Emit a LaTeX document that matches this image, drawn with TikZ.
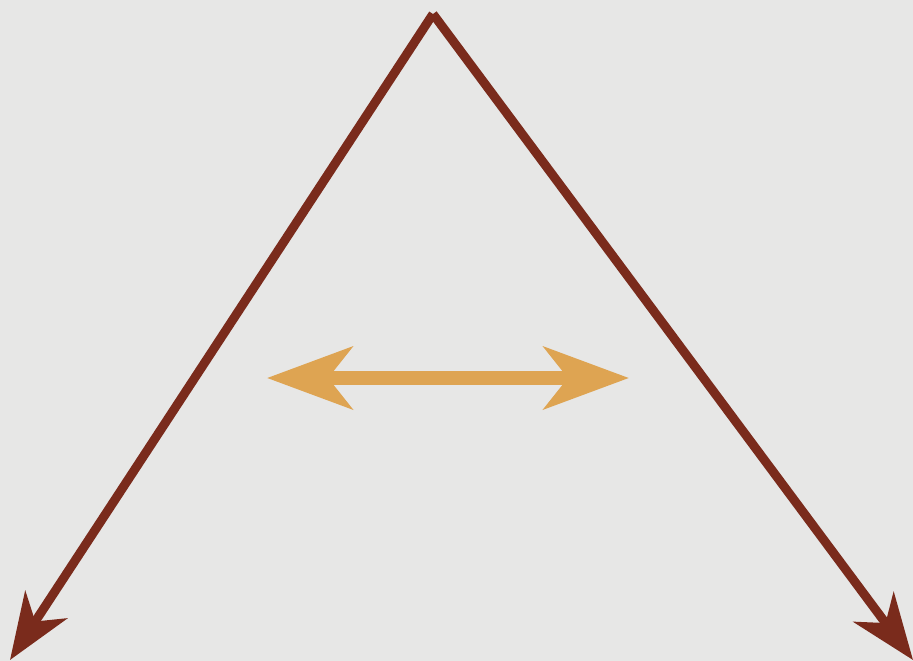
\documentclass[tikz,border=0pt]{standalone}
\usetikzlibrary{arrows.meta}
\definecolor{bg}{HTML}{E7E7E6}
\definecolor{brownline}{HTML}{7A2B1C}
\definecolor{orangearr}{HTML}{DEA452}
\begin{document}
\begin{tikzpicture}[x=1pt,y=-1pt,
  side/.style={draw=brownline,line width=9pt,line cap=butt,
    -{Stealth[length=66pt,width=50pt,inset=20pt]}},
  dbl/.style={draw=orangearr,line width=14pt,
    {Stealth[length=85pt,width=62pt,inset=24pt]}-{Stealth[length=85pt,width=62pt,inset=24pt]}}]
\fill[bg] (0,0) rectangle (913,661);
\useasboundingbox (0,0) rectangle (913,661);
\coordinate (apex) at (433,14);
\coordinate (lefttip) at (10,660);
\coordinate (righttip) at (913,660);
\coordinate (oleft) at (267,378);
\coordinate (oright) at (629,378);
\draw[side] (apex) -- (lefttip);
\draw[side] (apex) -- (righttip);
\draw[dbl] (oleft) -- (oright);
\end{tikzpicture}
\end{document}
